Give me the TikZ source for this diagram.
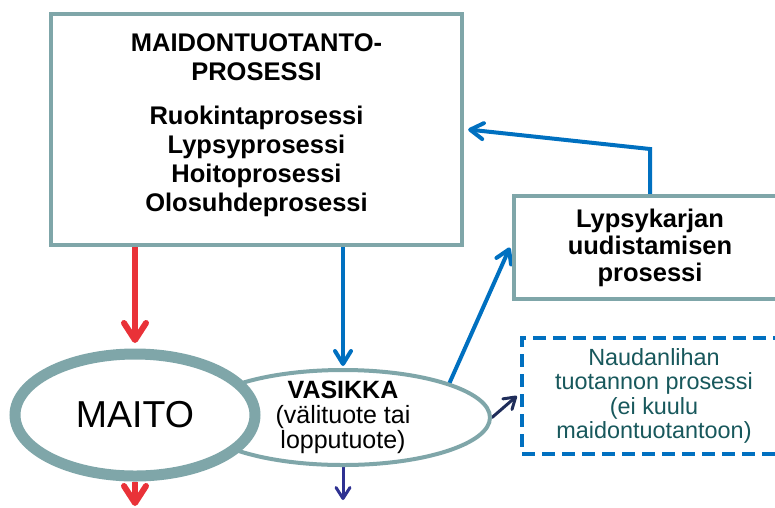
\documentclass[tikz,border=0pt]{standalone}
\usepackage{fontspec}
\setmainfont{Liberation Sans}
\usetikzlibrary{arrows.meta,shapes.geometric,calc}
\definecolor{boxgray}{RGB}{127,166,169}
\definecolor{flowblue}{RGB}{0,112,192}
\definecolor{milkred}{RGB}{233,50,56}
\definecolor{calfnavy}{RGB}{46,49,146}
\definecolor{beefnavy}{RGB}{31,45,90}
\definecolor{beefteal}{RGB}{24,88,92}
\pgfdeclarelayer{back}
\pgfsetlayers{back,main}

\begin{document}
\begin{tikzpicture}[x=1pt,y=-1pt,
  frame/.style={draw=boxgray,line width=4.3pt,fill=white,rectangle,inner sep=0pt,align=center},
  boldtext/.style={font=\fontsize{25.5}{29}\selectfont\bfseries},
  blueflow/.style={draw=flowblue,line width=4pt,line cap=round,
    -{Straight Barb[length=13pt,width=16pt,line cap=round,line join=round]}},
  redflow/.style={draw=milkred,line width=6pt,
    -{Straight Barb[length=17pt,width=22pt,line cap=round,line join=round]}},
  navyflow/.style={line width=3pt,line cap=round,
    -{Straight Barb[length=11pt,width=14pt,line cap=round,line join=round]}},
]
\useasboundingbox (0,0) rectangle (775,507);
\clip (0,0) rectangle (775,507);

% process boxes
\node[frame,boldtext,minimum width=411pt,minimum height=231pt] (proc) at (256.5,129.5)
  {MAIDONTUOTANTO-\\PROSESSI\\[15pt]Ruokintaprosessi\\Lypsyprosessi\\Hoitoprosessi\\Olosuhdeprosessi\rule[-13pt]{0pt}{0pt}};
\node[frame,font=\fontsize{25.5}{27}\selectfont\bfseries,minimum width=272pt,minimum height=103pt] (renew) at (650,247.5)
  {Lypsykarjan\\uudistamisen\\prosessi};
\node[draw=flowblue,line width=4.3pt,dash pattern=on 13pt off 7pt,fill=white,rectangle,inner sep=0pt,
      minimum width=264pt,minimum height=116pt,align=center,text=beefteal,
      font=\fontsize{23.4}{24.5}\selectfont] (beef) at (654,396)
  {Naudanlihan\\tuotannon prosessi\\(ei kuulu\\maidontuotantoon)};

% products
\node[ellipse,draw=boxgray,line width=4pt,fill=white,minimum width=294pt,minimum height=95pt,
      inner sep=-4pt,align=center,font=\fontsize{25}{25}\selectfont] (calf) at (343,417.5)
  {\textbf{VASIKKA}\\(välituote tai\\lopputuote)};
\node[ellipse,draw=boxgray,line width=11pt,fill=white,minimum width=240pt,minimum height=122pt,
      font=\fontsize{37.5}{40}\selectfont] (milk) at (135,415) {MAITO};

\coordinate (bend) at (650,149);
\coordinate (milkout) at (135,506);
\coordinate (calfout) at (343,500);

% flows
\begin{pgfonlayer}{back}
\draw[redflow] (milk.north |- proc.south) -- ([yshift=5.5pt]milk.north);
\draw[blueflow] (calf.north |- proc.south) -- ([yshift=2pt]calf.north);
\draw[blueflow] (calf.18) -- ([xshift=-2pt]renew.west);
\draw[blueflow] (renew.north) -- (bend) -- ([xshift=4pt]proc.east);
\draw[redflow] (milk.south) -- (milkout);
\draw[navyflow,draw=calfnavy] (calf.south) -- (calfout);
\draw[navyflow,draw=beefnavy] (calf.east) -- ([xshift=-3pt]beef.west);
\end{pgfonlayer}
\end{tikzpicture}
\end{document}
